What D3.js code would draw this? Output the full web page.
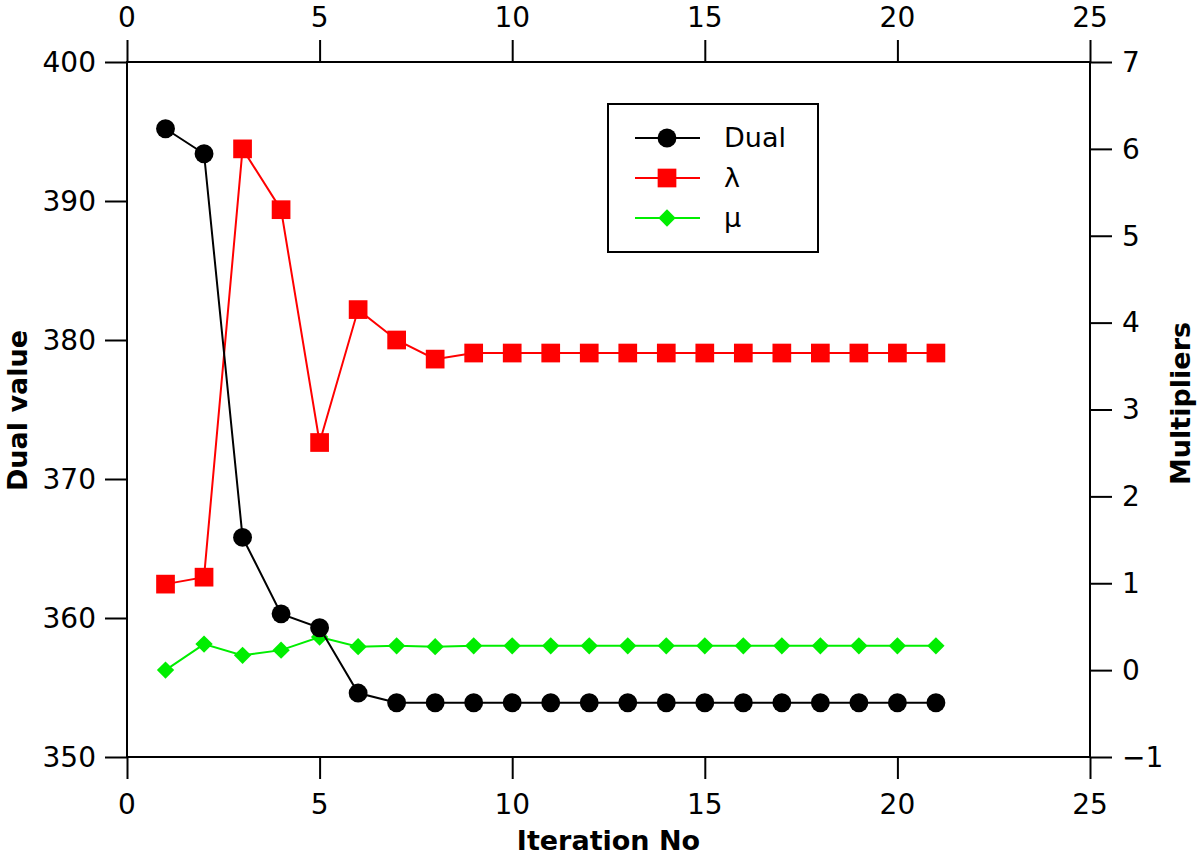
<!DOCTYPE html>
<html>
<head>
<meta charset="utf-8">
<script src="https://cdn.jsdelivr.net/npm/d3@7"></script>
<style>
  body { margin: 0; background: #fff; }
  svg text { font-family: "DejaVu Sans", sans-serif; fill: #000; }
</style>
</head>
<body>
<div id="chart"></div>
<script>
// data
const iterations = d3.range(1, 22);
const dualValues = [395.2, 393.4, 365.8, 360.3, 359.3, 354.6, 353.9, 353.9, 353.9, 353.9, 353.9,
  353.9, 353.9, 353.9, 353.9, 353.9, 353.9, 353.9, 353.9, 353.9, 353.9];
const lambdaValues = [0.99, 1.07, 6.0, 5.3, 2.62, 4.15, 3.8, 3.58, 3.65, 3.65, 3.65,
  3.65, 3.65, 3.65, 3.65, 3.65, 3.65, 3.65, 3.65, 3.65, 3.65];
const muValues = [0.0, 0.3, 0.17, 0.23, 0.38, 0.27, 0.28, 0.27, 0.28, 0.28, 0.28,
  0.28, 0.28, 0.28, 0.28, 0.28, 0.28, 0.28, 0.28, 0.28, 0.28];
const xTicks = [0, 5, 10, 15, 20, 25];
const leftTicks = [350, 360, 370, 380, 390, 400];
const rightTicks = [-1, 0, 1, 2, 3, 4, 5, 6, 7];
const legendNames = ["Dual", "λ", "μ"];

const width = 1200, height = 858;
const margin = { top: 62, right: 110, bottom: 101, left: 127 };

const svg = d3.select("#chart").append("svg")
  .attr("width", width)
  .attr("height", height);

const x = d3.scaleLinear().domain([0, 25]).range([margin.left, width - margin.right]);
const yLeft = d3.scaleLinear().domain([350, 400]).range([height - margin.bottom, margin.top]);
const yRight = d3.scaleLinear().domain([-1, 7]).range([height - margin.bottom, margin.top]);

const fontSize = 28;

// draws an axis with long (major) and short (minor) ticks
function drawAxis(axisFn, scale, majors, minors, transform) {
  const g = svg.append("g").attr("transform", transform);
  g.call(axisFn(scale).tickValues(minors).tickSize(12).tickFormat(""));
  g.call(axisFn(scale).tickValues(majors).tickSize(22).tickFormat("").tickSizeOuter(0));
  g.selectAll("path.domain").remove();
  g.selectAll("line").attr("stroke", "#000").attr("stroke-width", 2);
  return g;
}

const xMinor = d3.range(0, 26, 1).filter(v => v % 5 !== 0);
const leftMinor = d3.range(350, 401, 2).filter(v => v % 10 !== 0);
const rightMinor = d3.range(-10, 71, 2).map(v => v / 10).filter(v => Math.abs(v - Math.round(v)) > 1e-6);

drawAxis(d3.axisBottom, x, xTicks, xMinor, `translate(0,${height - margin.bottom})`);
drawAxis(d3.axisTop, x, xTicks, xMinor, `translate(0,${margin.top})`);
drawAxis(d3.axisLeft, yLeft, leftTicks, leftMinor, `translate(${margin.left},0)`);
drawAxis(d3.axisRight, yRight, rightTicks, rightMinor, `translate(${width - margin.right},0)`);

// frame
svg.append("rect")
  .attr("x", margin.left).attr("y", margin.top)
  .attr("width", x(25) - x(0)).attr("height", yLeft(350) - yLeft(400))
  .attr("fill", "none").attr("stroke", "#000").attr("stroke-width", 2);

// tick labels
svg.selectAll(".xb").data(xTicks).enter().append("text")
  .attr("x", d => x(d)).attr("y", 804).attr("dy", "0.35em")
  .attr("text-anchor", "middle").style("font-size", fontSize + "px").text(d => d);
svg.selectAll(".xt").data(xTicks).enter().append("text")
  .attr("x", d => x(d)).attr("y", 17).attr("dy", "0.35em")
  .attr("text-anchor", "middle").style("font-size", fontSize + "px").text(d => d);
svg.selectAll(".yl").data(leftTicks).enter().append("text")
  .attr("x", 96).attr("y", d => yLeft(d)).attr("dy", "0.35em")
  .attr("text-anchor", "end").style("font-size", fontSize + "px").text(d => d);
svg.selectAll(".yr").data(rightTicks).enter().append("text")
  .attr("x", 1122).attr("y", d => yRight(d)).attr("dy", "0.35em")
  .attr("text-anchor", "start").style("font-size", fontSize + "px")
  .text(d => d < 0 ? "\u2212" + Math.abs(d) : d);

// axis titles
svg.append("text")
  .attr("x", (x(0) + x(25)) / 2).attr("y", 841).attr("dy", "0.35em")
  .attr("text-anchor", "middle").style("font-size", "27px").style("font-weight", "bold")
  .text("Iteration No");
svg.append("text")
  .attr("transform", `translate(18,${(margin.top + height - margin.bottom) / 2 + 1}) rotate(-90)`)
  .attr("dy", "0.35em")
  .attr("text-anchor", "middle").style("font-size", "27px").style("font-weight", "bold")
  .text("Dual value");
svg.append("text")
  .attr("transform", `translate(1181,${(margin.top + height - margin.bottom) / 2 - 6}) rotate(-90)`)
  .attr("dy", "0.35em")
  .attr("text-anchor", "middle").style("font-size", "27px").style("font-weight", "bold")
  .text("Multipliers");

// series
const series = [
  { name: "Dual", values: dualValues, y: yLeft, color: "#000", symbol: d3.symbolCircle, size: 280, rot: 0 },
  { name: "λ", values: lambdaValues, y: yRight, color: "#ff0000", symbol: d3.symbolSquare, size: 350, rot: 0 },
  { name: "μ", values: muValues, y: yRight, color: "#00ee00", symbol: d3.symbolSquare, size: 150, rot: 45 }
];

// draw lambda and mu under dual, like the reference
[series[1], series[2], series[0]].forEach(s => {
  const line = d3.line().x((d, i) => x(iterations[i])).y(d => s.y(d));
  svg.append("path").datum(s.values)
    .attr("d", line).attr("fill", "none")
    .attr("stroke", s.color).attr("stroke-width", 2);
  svg.append("g").selectAll("path").data(s.values).enter().append("path")
    .attr("transform", (d, i) => `translate(${x(iterations[i])},${s.y(d)}) rotate(${s.rot})`)
    .attr("d", d3.symbol().type(s.symbol).size(s.size))
    .attr("fill", s.color);
});

// legend
const legend = svg.append("g");
legend.append("rect")
  .attr("x", 608).attr("y", 104).attr("width", 210).attr("height", 148)
  .attr("fill", "#fff").attr("stroke", "#000").attr("stroke-width", 2);
const rowY = d3.scalePoint().domain(legendNames).range([138, 218]);
series.forEach(s => {
  const yy = rowY(s.name);
  legend.append("line").attr("x1", 635).attr("x2", 700).attr("y1", yy).attr("y2", yy)
    .attr("stroke", s.color).attr("stroke-width", 2);
  legend.append("path").attr("transform", `translate(667,${yy}) rotate(${s.rot})`)
    .attr("d", d3.symbol().type(s.symbol).size(s.size))
    .attr("fill", s.color);
  legend.append("text").attr("x", 724).attr("y", yy).attr("dy", "0.35em")
    .style("font-size", "27px").text(s.name);
});
</script>
</body>
</html>
